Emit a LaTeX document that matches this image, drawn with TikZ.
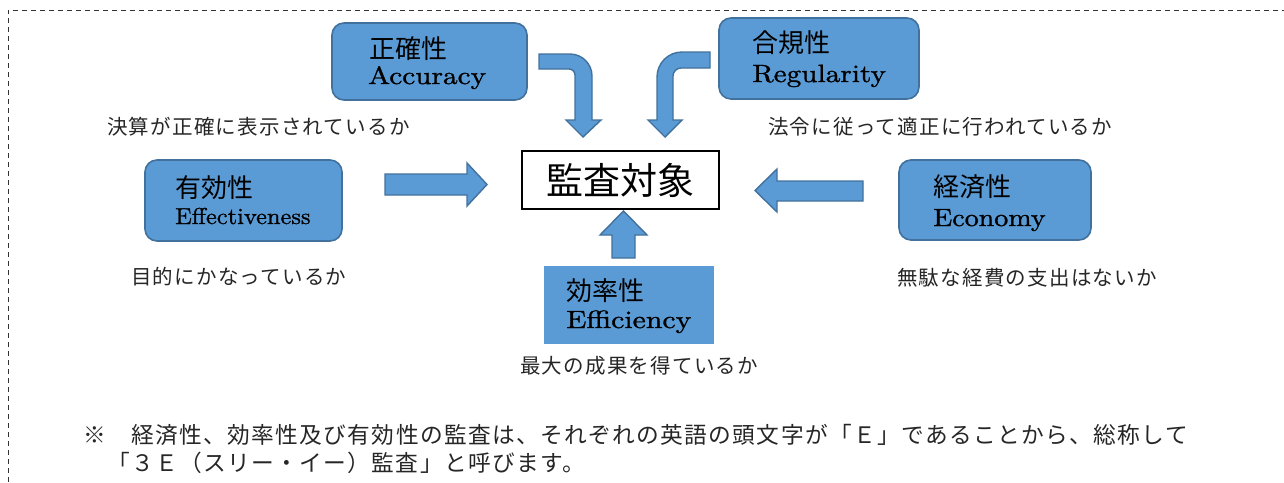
\documentclass[tikz,border=0pt]{standalone}
\usepackage{fontspec}
\usepackage{graphicx}
\newfontfamily\jp{Noto Sans CJK JP}
\newfontfamily\jpsp{Noto Sans CJK JP}[LetterSpace=6]
\newfontfamily\en{lmroman10-regular}[Extension=.otf, FakeBold=1]
\definecolor{fillblue}{RGB}{91,155,213}
\definecolor{bordblue}{RGB}{65,113,156}
\tikzset{
  bluebox/.style={draw=bordblue, fill=fillblue, line width=1.6pt, rounded corners=12pt, inner sep=0pt},
  flatbox/.style={fill=fillblue, inner sep=0pt},
  targetbox/.style={draw=black, fill=white, line width=1.1pt, inner sep=0pt},
  jplabel/.style={font=\jp\fontsize{26}{26}\selectfont, inner sep=0pt, anchor=west},
  enlabel/.style={inner sep=0pt, anchor=base west},
  caption/.style={font=\jpsp\fontsize{20.5}{20.5}\selectfont, inner sep=0pt, anchor=west, text=black!85},
  footnote/.style={font=\jpsp\fontsize{22.7}{22.7}\selectfont, inner sep=0pt, anchor=west, text=black!85},
  blockarrow/.style={draw=bordblue, fill=fillblue, line width=1.4pt, line join=miter},
  border/.style={draw=black!80, line width=0.9pt, dash pattern=on 5pt off 4pt},
}
\begin{document}
\begin{tikzpicture}[x=1pt,y=-1pt]
\useasboundingbox (0,0) rectangle (1284,482);
% dashed frame
\draw[border] (8,482) -- (8,10) -- (1284,10);

% boxes
\node[bluebox, minimum width=195pt, minimum height=77pt] (acc) at (429.5,61.5) {};
\node[bluebox, minimum width=200pt, minimum height=81pt] (reg) at (819,58.5) {};
\node[bluebox, minimum width=197pt, minimum height=81pt] (eff) at (243.5,200.5) {};
\node[bluebox, minimum width=192pt, minimum height=80pt] (eco) at (995,200) {};
\node[flatbox, minimum width=170pt, minimum height=78pt] (efc) at (629,305) {};
\node[targetbox, minimum width=197pt, minimum height=58pt] (tgt) at (620.5,180)
  {\jp\fontsize{37}{37}\selectfont 監査対象};

% box texts
\node[jplabel] (accjp) at (369,49) {正確性};
\node[enlabel] (accen) at (368,84) {\scalebox{1.17}[1]{\en\fontsize{25}{25}\selectfont Accuracy}};
\node[jplabel] (regjp) at (752,43) {合規性};
\node[enlabel] (regen) at (752,82) {\scalebox{1.17}[1]{\en\fontsize{25}{25}\selectfont Regularity}};
\node[jplabel] (effjp) at (175,188) {有効性};
\node[enlabel] (effen) at (175,224) {\scalebox{1.06}[1]{\en\fontsize{23}{23}\selectfont Effectiveness}};
\node[jplabel] (ecojp) at (933,187) {経済性};
\node[enlabel] (ecoen) at (933,226) {\scalebox{1.12}[1]{\en\fontsize{25}{25}\selectfont Economy}};
\node[jplabel] (efcjp) at (566,291) {効率性};
\node[enlabel] (efcen) at (566,328) {\scalebox{1.19}[1]{\en\fontsize{25}{25}\selectfont Efficiency}};

% captions
\node[caption] (capacc) at (107,127) {決算が正確に表示されているか};
\node[caption] (capreg) at (768,127) {法令に従って適正に行われているか};
\node[caption] (capeff) at (131,277) {目的にかなっているか};
\node[caption] (capeco) at (897,278) {無駄な経費の支出はないか};
\node[caption] (capefc) at (520,366) {最大の成果を得ているか};

% footnote
\node[footnote] (note1) at (83,435) {※　経済性、効率性及び有効性の監査は、それぞれの英語の頭文字が「Ｅ」であることから、総称して};
\node[footnote] (note2) at (107,463) {「３Ｅ（スリー・イー）監査」と呼びます。};

% bent arrow from Accuracy
\draw[blockarrow] (539,54) -- (570,54) .. controls (582.1,54) and (592,63.9) .. (592,76)
  -- (592,120) -- (601,120) -- (583,137) -- (566,120) -- (575,120) -- (575,75)
  .. controls (575,71.7) and (572.3,69) .. (569,69) -- (539,69) -- cycle;
% bent arrow from Regularity
\draw[blockarrow] (710,52) -- (682,52) .. controls (668.2,52) and (657,63.2) .. (657,77)
  -- (657,120) -- (648,120) -- (665,137) -- (682,120) -- (673,120) -- (673,76)
  .. controls (673,71.6) and (676.6,68) .. (681,68) -- (710,68) -- cycle;
% right arrow from Effectiveness
\draw[blockarrow] (385,174) -- (467,174) -- (467,163) -- (487,184.5) -- (467,206)
  -- (467,195) -- (385,195) -- cycle;
% left arrow from Economy
\draw[blockarrow] (863,181) -- (777,181) -- (777,169) -- (755,190.5) -- (777,212)
  -- (777,201) -- (863,201) -- cycle;
% up arrow from Efficiency
\draw[blockarrow] (612,258) -- (612,235) -- (600,235) -- (623.5,211) -- (647,235)
  -- (635,235) -- (635,258) -- cycle;
\end{tikzpicture}
\end{document}
